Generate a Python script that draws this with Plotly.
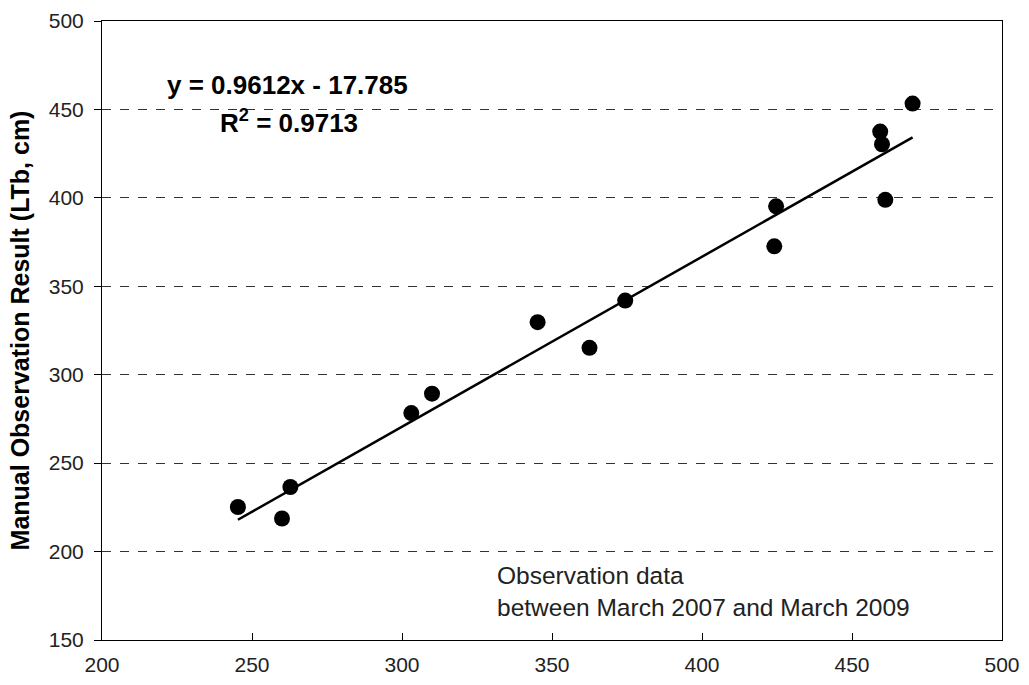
import numpy as np
import plotly.graph_objects as go

# Observation data (x: automatic/estimated, y: manual observation, LTb cm)
obs_x = [245.3, 260.0, 262.8, 303.1, 310.0, 345.2, 362.5, 374.4,
         424.1, 424.7, 459.4, 460.0, 461.1, 470.2]
obs_y = [225.2, 218.7, 236.5, 278.3, 289.3, 329.7, 315.2, 341.9,
         372.6, 395.2, 437.5, 430.3, 398.9, 453.3]

slope = 0.9612
intercept = -17.785
r_squared = 0.9713

x_ticks = [200, 250, 300, 350, 400, 450, 500]
y_ticks = [150, 200, 250, 300, 350, 400, 450, 500]

fit_x = np.array([min(obs_x), max(obs_x)])
fit_y = slope * fit_x + intercept

fig = go.Figure()
fig.add_trace(go.Scatter(x=fit_x, y=fit_y, mode="lines",
                         line=dict(color="black", width=2.5),
                         showlegend=False, hoverinfo="skip"))
fig.add_trace(go.Scatter(x=obs_x, y=obs_y, mode="markers",
                         marker=dict(color="black", size=16),
                         showlegend=False))

font_family = "Liberation Sans, Arial, sans-serif"

fig.update_layout(
    width=1029, height=685,
    margin=dict(l=102, r=27, t=21, b=45),
    paper_bgcolor="white", plot_bgcolor="white",
    font=dict(family=font_family, color="black", size=21),
    xaxis=dict(range=[200, 500], tickvals=x_ticks, showgrid=False,
               showline=True, linecolor="black", linewidth=1, mirror=True,
               ticks="inside", ticklen=7, tickcolor="black", zeroline=False,
               tickfont=dict(size=21, color="#222222"), ticklabelstandoff=6,
               automargin=False),
    yaxis=dict(range=[150, 500], tickvals=y_ticks, showgrid=True,
               gridcolor="#333333", griddash="dash", gridwidth=1,
               showline=True, linecolor="black", linewidth=1, mirror=True,
               ticks="outside", ticklen=7, tickcolor="black", zeroline=False,
               tickfont=dict(size=21, color="#222222"), ticklabelstandoff=6,
               automargin=False,
               title=dict(text="<b>Manual Observation Result (LTb, cm)</b>",
                          font=dict(size=25), standoff=12)),
)

fig.add_annotation(x=0.07, y=0.897, xref="paper", yref="paper",
                   xanchor="left", yanchor="middle", showarrow=False,
                   text=f"<b>y = {slope}x - {abs(intercept)}</b>",
                   font=dict(size=26, family=font_family))
fig.add_annotation(x=0.129, y=0.838, xref="paper", yref="paper",
                   xanchor="left", yanchor="middle", showarrow=False,
                   text=f"<b>R<sup>2</sup> = {r_squared}</b>",
                   font=dict(size=26, family=font_family))
fig.add_annotation(x=0.437, y=0.079, xref="paper", yref="paper",
                   xanchor="left", yanchor="middle", showarrow=False, align="left",
                   text="Observation data<br>between March 2007 and March 2009",
                   font=dict(size=24.5, family=font_family, color="#222222"))

fig.write_html("out.html")
